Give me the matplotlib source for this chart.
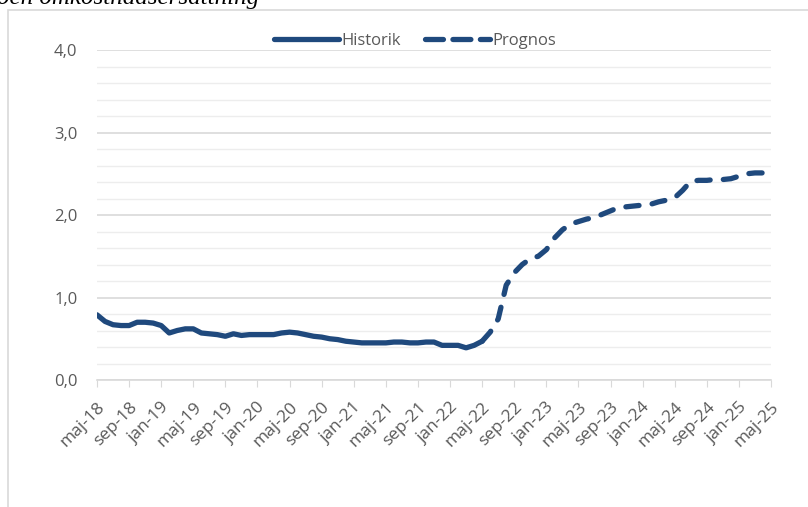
import matplotlib
matplotlib.use('Agg')
import matplotlib.pyplot as plt
from matplotlib.lines import Line2D
from matplotlib.patches import Rectangle
from matplotlib.ticker import MultipleLocator

# Data: monthly values, maj-18 .. maj-25
historik = [0.79, 0.71, 0.67, 0.66, 0.66, 0.70, 0.70, 0.69, 0.66, 0.57,
            0.60, 0.62, 0.62, 0.57, 0.56, 0.55, 0.53, 0.56, 0.54, 0.55,
            0.55, 0.55, 0.55, 0.57, 0.58, 0.57, 0.55, 0.53, 0.52, 0.50,
            0.49, 0.47, 0.46, 0.45, 0.45, 0.45, 0.45, 0.46, 0.46, 0.45,
            0.45, 0.46, 0.46, 0.42, 0.42, 0.42, 0.39, 0.42, 0.47]
prognos = [0.47, 0.58, 0.74, 1.15, 1.30, 1.40, 1.47, 1.50, 1.58, 1.72,
           1.82, 1.89, 1.92, 1.95, 1.97, 2.01, 2.05, 2.09, 2.10, 2.11,
           2.12, 2.13, 2.16, 2.18, 2.21, 2.30, 2.41, 2.42, 2.42, 2.43,
           2.43, 2.44, 2.47, 2.50, 2.51, 2.51, 2.52]
tick_labels = ['maj-18', 'sep-18', 'jan-19', 'maj-19', 'sep-19', 'jan-20',
               'maj-20', 'sep-20', 'jan-21', 'maj-21', 'sep-21', 'jan-22',
               'maj-22', 'sep-22', 'jan-23', 'maj-23', 'sep-23', 'jan-24',
               'maj-24', 'sep-24', 'jan-25', 'maj-25']

blue = '#1F497D'
grey = '#595959'
plt.rcParams['font.family'] = ['Open Sans', 'DejaVu Sans']

fig = plt.figure(figsize=(8.08, 5.07), dpi=100)

# outer chart border
fig.patches.append(Rectangle((8 / 808, -0.05), 1.0, 1 - 10 / 507 + 0.05,
                             transform=fig.transFigure, fill=False,
                             edgecolor='#D9D9D9', linewidth=1.2))

# cut-off title at the very top
fig.text(-0.004, 1 - 4 / 507, 'och omkostnadsersättning', family='Liberation Serif',
         style='italic', fontsize=18, va='baseline', ha='left', color='black')

ax = fig.add_axes([97 / 808, 127 / 507, 674 / 808, 330 / 507])

x_hist = list(range(len(historik)))
x_prog = list(range(len(historik) - 1, len(historik) - 1 + len(prognos)))

lw = 3.8
ax.plot(x_prog, prognos, color=blue, lw=lw, dashes=(2.5, 2.5),
        dash_capstyle='round', solid_capstyle='round')
ax.plot(x_hist, historik, color=blue, lw=lw, solid_capstyle='round')

ax.set_xlim(0, 84)
ax.set_ylim(0, 4)
ax.yaxis.set_major_locator(MultipleLocator(1))
ax.yaxis.set_minor_locator(MultipleLocator(0.2))
ax.grid(axis='y', which='major', color='#D9D9D9', lw=1.2)
ax.grid(axis='y', which='minor', color='#EDEDED', lw=1.0)
ax.set_axisbelow(True)
ax.tick_params(axis='y', which='both', length=0, pad=14, labelsize=12,
               labelcolor=grey)
ax.set_yticks([0, 1, 2, 3, 4])
ax.set_yticklabels(['0,0', '1,0', '2,0', '3,0', '4,0'])

ax.set_xticks(list(range(0, 85, 4)))
ax.set_xticklabels(tick_labels, rotation=45, ha='right',
                   rotation_mode='anchor')
ax.tick_params(axis='x', length=5, color='#D9D9D9', labelsize=12.5,
               labelcolor=grey, pad=9)

for s in ['top', 'right', 'left']:
    ax.spines[s].set_visible(False)
ax.spines['bottom'].set_color('#D9D9D9')
ax.spines['bottom'].set_linewidth(1.2)

handles = [Line2D([], [], color=blue, lw=lw, solid_capstyle='round'),
           Line2D([], [], color=blue, lw=lw, dashes=(3.4, 1.8),
                  dash_capstyle='round')]
fig.legend(handles, ['Historik', 'Prognos'], loc='center',
           bbox_to_anchor=(415 / 808, 1 - 41 / 507), ncol=2, frameon=False,
           fontsize=12, labelcolor=grey, handlelength=3.9, handletextpad=0.15,
           columnspacing=1.4)

fig.savefig('out.png', dpi=100)
